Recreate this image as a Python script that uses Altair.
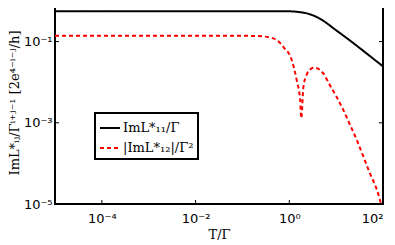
import altair as alt
import pandas as pd

# Black: Im L*_11 / Gamma
t_black = [1e-5, 1e-2, 1.0, 1.58, 2.82, 4.57, 10.0, 20.0, 44.7, 100.0]
y_black = [0.56, 0.56, 0.556, 0.537, 0.468, 0.363, 0.19, 0.105, 0.051, 0.0245]

# Red dashed: |Im L*_12| / Gamma^2
t_red = [1e-5, 0.1, 0.2, 0.398, 0.562, 0.759, 1.14, 1.445, 1.71, 1.80, 2.0, 2.38,
         2.82, 3.39, 5.37, 7.41, 10.2, 14.3, 20.0, 27.5, 38.0, 52.5, 74.0, 91.0]
y_red = [0.139, 0.139, 0.137, 0.126, 0.105, 0.0724, 0.0339, 0.011, 0.00355, 0.00129,
         0.00759, 0.0158, 0.0209, 0.0229, 0.0162, 0.0083, 0.00437, 0.00204, 0.00087,
         0.00038, 0.000148, 5.75e-5, 2.24e-5, 1.0e-5]

series_names = ["ImL*₁₁/Γ", "|ImL*₁₂|/Γ²"]
series_colors = ["#000000", "#ff0000"]

x_ticks = [1e-4, 1e-2, 1.0, 1e2]
x_tick_labels = ["10⁻⁴", "10⁻²", "10⁰", "10²"]
y_ticks = [1e-5, 1e-3, 1e-1]
y_tick_labels = ["10⁻⁵", "10⁻³", "10⁻¹"]

rows = []
for t, y in zip(t_black, y_black):
    rows.append({"T": t, "v": y, "s": series_names[0], "o": 0})
for t, y in zip(t_red, y_red):
    rows.append({"T": t, "v": y, "s": series_names[1], "o": 1})
df = pd.DataFrame(rows)

W, H = 328, 203

def label_expr(vals, labels):
    expr = "''"
    for v, l in zip(vals, labels):
        expr = f"abs(datum.value - {v}) < {v}*1e-6 ? '{l}' : ({expr})"
    return expr

xscale = alt.Scale(type="log", domain=[1e-5, 1e2], nice=False)
yscale = alt.Scale(type="log", domain=[1e-5, 1.0], nice=False)

leg = dict(title=None, orient="none", legendX=40, legendY=112,
           symbolType="stroke", symbolSize=400, symbolStrokeWidth=2,
           labelFont="DejaVu Serif", labelFontSize=13, labelColor="black",
           strokeColor="black", fillColor="white",
           padding=4, rowPadding=2, labelOffset=2)

lines = alt.Chart(df).mark_line(strokeWidth=2, clip=True, interpolate="monotone").encode(
    x=alt.X("T:Q", scale=xscale, title="T/Γ",
            axis=alt.Axis(values=x_ticks, labelExpr=label_expr(x_ticks, x_tick_labels),
                          ticks=False, domain=False, grid=False, labelPadding=8,
                          labelFont="DejaVu Sans", labelFontSize=13, labelColor="black",
                          titleFont="DejaVu Serif", titleFontSize=13, titleColor="black",
                          titleFontWeight="normal", titlePadding=3)),
    y=alt.Y("v:Q", scale=yscale,
            title="ImL*ᵢⱼ/Γⁱ⁺ʲ⁻¹ [2e⁴⁻ⁱ⁻ʲ/h]",
            axis=alt.Axis(values=y_ticks, labelExpr=label_expr(y_ticks, y_tick_labels),
                          ticks=False, domain=False, grid=False, labelPadding=3,
                          labelFont="DejaVu Sans", labelFontSize=13, labelColor="black",
                          titleFont="DejaVu Serif", titleFontSize=13, titleColor="black",
                          titleFontWeight="normal", titlePadding=2)),
    color=alt.Color("s:N", sort=series_names,
                    scale=alt.Scale(domain=series_names, range=series_colors),
                    legend=alt.Legend(**leg)),
    strokeDash=alt.StrokeDash("s:N", sort=series_names,
                              scale=alt.Scale(domain=series_names, range=[[1, 0], [4, 3]]),
                              legend=alt.Legend(**leg)),
    order="o:Q",
    detail="s:N",
)

xt = pd.DataFrame({"T": x_ticks})
yt = pd.DataFrame({"v": y_ticks})
tb = alt.Chart(xt).mark_rule(color="black", strokeWidth=1).encode(
    x=alt.X("T:Q", scale=xscale), y=alt.value(H), y2=alt.value(H - 4))
tt = alt.Chart(xt).mark_rule(color="black", strokeWidth=1).encode(
    x=alt.X("T:Q", scale=xscale), y=alt.value(0), y2=alt.value(4))
tl = alt.Chart(yt).mark_rule(color="black", strokeWidth=1).encode(
    y=alt.Y("v:Q", scale=yscale), x=alt.value(0), x2=alt.value(4))
tr = alt.Chart(yt).mark_rule(color="black", strokeWidth=1).encode(
    y=alt.Y("v:Q", scale=yscale), x=alt.value(W - 4), x2=alt.value(W))

chart = alt.layer(lines, tb, tt, tl, tr).properties(
    width=W, height=H,
    autosize=alt.AutoSizeParams(type="none"),
    padding={"left": 47, "top": -7, "right": 4, "bottom": 38},
).configure_view(stroke="black", strokeWidth=2).configure_legend(strokeWidth=2)

chart.save("out.html", embed_options={"renderer": "svg", "actions": False})
